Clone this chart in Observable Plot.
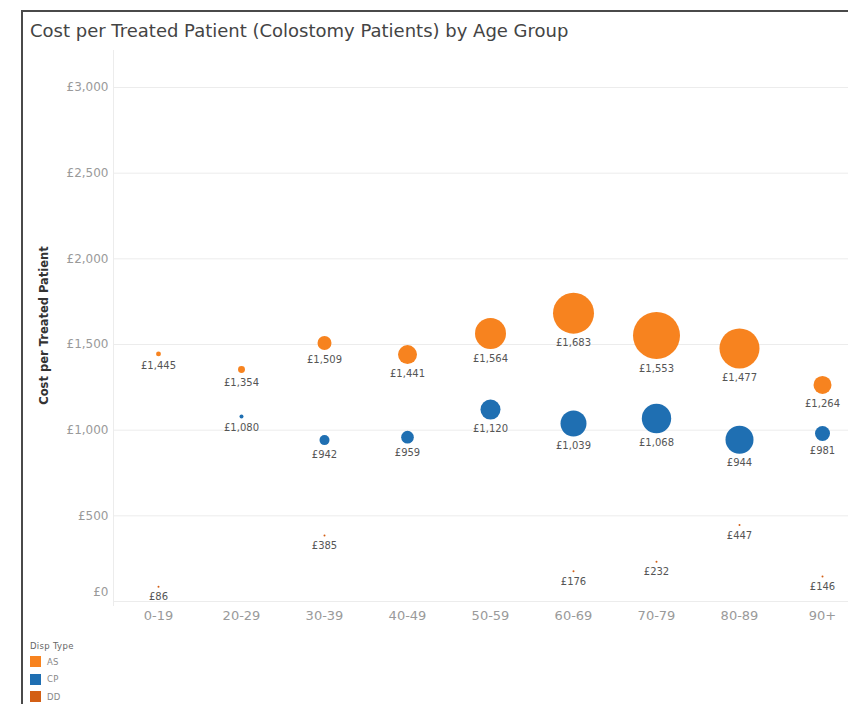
<!DOCTYPE html>
<html>
<head>
<meta charset="utf-8">
<script src="https://cdn.jsdelivr.net/npm/d3@7"></script>
<script src="https://cdn.jsdelivr.net/npm/@observablehq/plot@0.6"></script>
<style>
  html, body { margin: 0; padding: 0; background: #fff; }
  #wrap { position: relative; width: 848px; height: 704px; overflow: hidden; font-family: "DejaVu Sans", sans-serif; }
  #border { position: absolute; left: 21px; top: 10px; right: -5px; bottom: -5px; border-top: 2px solid #4a4a4a; border-left: 2px solid #4a4a4a; }
  #title { position: absolute; left: 30px; top: 20px; font-size: 18px; color: #444; white-space: nowrap; }
  #chart { position: absolute; left: 0; top: 0; }
  #legend { position: absolute; left: 30px; top: 641px; font-size: 8.5px; color: #888; letter-spacing: 0.3px; }
  #legend .t { color: #666; margin-bottom: 2px; }
  #legend .row { display: flex; align-items: center; height: 17.5px; }
  #legend .sw { width: 11px; height: 11px; margin-right: 6px; }
</style>
</head>
<body>
<div id="wrap">
  <div id="border"></div>
  <div id="chart"></div>
  <div id="title">Cost per Treated Patient (Colostomy Patients) by Age Group</div>
  <div id="legend"></div>
</div>
<script>
const ages = ["0-19", "20-29", "30-39", "40-49", "50-59", "60-69", "70-79", "80-89", "90+"];
const dispTypes = ["AS", "CP", "DD"];
const typeColors = ["#f7831f", "#1f6fb2", "#d35f15"];
const asCost = [1445, 1354, 1509, 1441, 1564, 1683, 1553, 1477, 1264];
const cpCost = [null, 1080, 942, 959, 1120, 1039, 1068, 944, 981];
const ddCost = [86, null, 385, null, null, 176, 232, 447, 146];
const asPatients = [6, 12, 49, 90, 240, 420, 552, 400, 81];
const cpPatients = [null, 4, 25, 40, 100, 169, 216, 196, 56];
const ddPatients = [1, null, 1, null, null, 1, 1, 1, 1];
const yTicks = [500, 1000, 1500, 2000, 2500, 3000];
const yTitle = "Cost per Treated Patient";
const legendTitle = "Disp Type";

const rows = [];
const series = [[asCost, asPatients], [cpCost, cpPatients], [ddCost, ddPatients]];
series.forEach(([costs, pats], i) => {
  ages.forEach((age, j) => {
    if (costs[j] != null) rows.push({age, type: dispTypes[i], cost: costs[j], patients: pats[j]});
  });
});

const fmt = v => "£" + d3.format(",")(v);
const rOpts = {type: "sqrt", domain: [0, 552], range: [0, 23.5]};
const rScale = Plot.scale({r: rOpts});

const H = 640, MT = 50, MB = 35;
const chart = Plot.plot({
  width: 848,
  height: H,
  marginLeft: 113,
  marginRight: 0,
  marginTop: MT,
  marginBottom: MB,
  style: {fontFamily: "'DejaVu Sans', sans-serif", background: "transparent", overflow: "visible"},
  x: {type: "point", domain: ages, range: [155, 825], padding: 0},
  y: {domain: [0, 3000], range: [601, 87]},
  r: rOpts,
  color: {domain: dispTypes, range: typeColors},
  marks: [
    Plot.gridY([0, ...yTicks], {stroke: "#ececec", strokeOpacity: 1}),
    Plot.frame({anchor: "left", stroke: "#ececec"}),
    Plot.axisY(yTicks, {tickSize: 0, tickPadding: 5, tickFormat: fmt, color: "#9a9a9a", fontSize: 12, label: null, style: {letterSpacing: "0.5px"}}),
    Plot.axisY([0], {tickSize: 0, tickPadding: 5, tickFormat: fmt, color: "#9a9a9a", fontSize: 12, label: null, dy: -9, style: {letterSpacing: "0.5px"}}),
    Plot.axisX({tickSize: 0, tickPadding: 5, color: "#9a9a9a", fontSize: 13, label: null, style: {letterSpacing: "1px"}}),
    Plot.text([yTitle], {frameAnchor: "left", textAnchor: "middle", rotate: -90, dx: 44 - 113, dy: 325 - (MT + H - MB) / 2, fontWeight: "bold", fontSize: 11.5, fill: "#333"}),
    Plot.dot(rows, {x: "age", y: "cost", r: "patients", fill: "type"}),
    ...rows.map(d => Plot.text([d], {x: "age", y: "cost", text: d => fmt(d.cost), dy: rScale.apply(d.patients) + 9.5, fontSize: 10, fill: "#555", style: {letterSpacing: "0.3px"}}))
  ]
});
document.getElementById("chart").appendChild(chart);

const lg = document.getElementById("legend");
const t = document.createElement("div");
t.className = "t";
t.textContent = legendTitle;
lg.appendChild(t);
dispTypes.forEach((k, i) => {
  const row = document.createElement("div");
  row.className = "row";
  row.innerHTML = `<div class="sw" style="background:${typeColors[i]}"></div><span>${k}</span>`;
  lg.appendChild(row);
});
</script>
</body>
</html>
